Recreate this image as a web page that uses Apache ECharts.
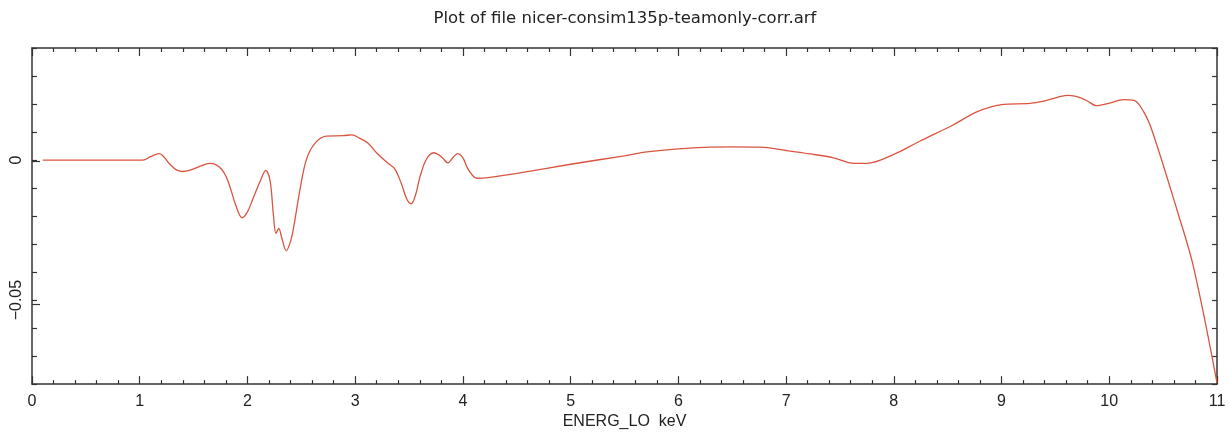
<!DOCTYPE html>
<html>
<head>
<meta charset="utf-8">
<script src="https://cdn.jsdelivr.net/npm/echarts@6/dist/echarts.min.js"></script>
<style>
html,body{margin:0;padding:0;background:#fff;}
#chart{width:1230px;height:435px;}
</style>
</head>
<body>
<div id="chart"></div>
<script>
const titleText = 'Plot of file nicer-consim135p-teamonly-corr.arf';
const xAxisName = 'ENERG_LO  keV';
const energy = [0.1, 0.5, 1.0, 1.03, 1.1, 1.18, 1.28, 1.34, 1.40, 1.47, 1.53, 1.60, 1.65, 1.71, 1.76, 1.80, 1.84, 1.89, 1.95, 2.00, 2.05, 2.12, 2.17, 2.21, 2.24, 2.265, 2.29, 2.32, 2.36, 2.40, 2.43, 2.49, 2.55, 2.63, 2.73, 2.89, 2.97, 3.04, 3.12, 3.20, 3.30, 3.37, 3.43, 3.48, 3.52, 3.56, 3.60, 3.66, 3.73, 3.80, 3.86, 3.91, 3.95, 4.00, 4.04, 4.09, 4.13, 4.25, 4.5, 5.0, 5.5, 5.71, 6.0, 6.29, 6.5, 6.76, 7.0, 7.22, 7.44, 7.63, 7.75, 8.0, 8.24, 8.55, 8.77, 9.0, 9.26, 9.39, 9.52, 9.62, 9.73, 9.80, 9.88, 10.01, 10.13, 10.23, 10.32, 10.40, 10.63, 10.78, 11.0];
const value = [0, 0, 0, 0, 0.0012, 0.0023, -0.0015, -0.0035, -0.0041, -0.0036, -0.0027, -0.0016, -0.0012, -0.0017, -0.0033, -0.0058, -0.0098, -0.0160, -0.0206, -0.0185, -0.0139, -0.0074, -0.0037, -0.0074, -0.0192, -0.0262, -0.0244, -0.0280, -0.0324, -0.0290, -0.0238, -0.0100, 0.0005, 0.0061, 0.0085, 0.0087, 0.0090, 0.0078, 0.0060, 0.0025, -0.0010, -0.0033, -0.0086, -0.0140, -0.0156, -0.0125, -0.0062, 0.0002, 0.0026, 0.0012, -0.0010, 0.0010, 0.0023, 0.0008, -0.0027, -0.0055, -0.0065, -0.0062, -0.0048, -0.0015, 0.0015, 0.0029, 0.0040, 0.0046, 0.0047, 0.0046, 0.0034, 0.0022, 0.0008, -0.0012, -0.0012, 0.0020, 0.0067, 0.0125, 0.0172, 0.0198, 0.0202, 0.0210, 0.0224, 0.0231, 0.0223, 0.0210, 0.0194, 0.0204, 0.0216, 0.0213, 0.0172, 0.0102, -0.0180, -0.0379, -0.0796];
const yLabelValues = [0, -0.05];

const FONT = 'Liberation Sans';
const AX = '#333';
const chart = echarts.init(document.getElementById('chart'));
const gridRect = {left: 32, right: 13, top: 48, bottom: 46};
const axLine = {show: true, onZero: false, lineStyle: {color: AX, width: 1.5}};
const xCommon = {
  type: 'value', min: 0, max: 11, interval: 1,
  axisLine: axLine,
  axisTick: {show: true, inside: true, length: 8, lineStyle: {color: AX, width: 1.2}},
  minorTick: {show: true, splitNumber: 5, length: 4, lineStyle: {color: AX, width: 1.2}},
  splitLine: {show: false}, minorSplitLine: {show: false}
};
chart.setOption({
  animation: false,
  backgroundColor: '#fff',
  title: {
    text: titleText, left: 620, top: 5, textAlign: 'center',
    textStyle: {fontFamily: 'DejaVu Sans', fontSize: 16.5, fontWeight: 'normal', color: '#222'}
  },
  grid: [Object.assign({}, gridRect), Object.assign({}, gridRect)],
  xAxis: [
    Object.assign({}, xCommon, {
      gridIndex: 0, position: 'bottom',
      axisLabel: {show: true, fontFamily: FONT, fontSize: 16, color: '#222', margin: 9},
      name: xAxisName, nameLocation: 'middle', nameGap: 28,
      nameTextStyle: {fontFamily: FONT, fontSize: 16, color: '#222'}
    }),
    Object.assign({}, xCommon, {gridIndex: 0, position: 'top', axisLabel: {show: false}}),
    {type: 'value', gridIndex: 1, min: 0, max: 11, show: false}
  ],
  yAxis: [
    {
      type: 'value', gridIndex: 0, position: 'left', min: -0.08, max: 0.04, interval: 0.01,
      axisLine: axLine,
      axisTick: {show: true, inside: true, length: 5, lineStyle: {color: AX, width: 1.2}},
      splitLine: {show: false},
      axisLabel: {
        show: true, rotate: 90, margin: 7, fontFamily: FONT, fontSize: 16, color: '#222',
        showMinLabel: true, showMaxLabel: true,
        formatter: function (v) {
          for (const t of yLabelValues) {
            if (Math.abs(v - t) < 1e-9) return t === 0 ? '0' : '\u2212' + Math.abs(t).toFixed(2);
          }
          return '';
        }
      }
    },
    {
      type: 'value', gridIndex: 0, position: 'right', min: -0.08, max: 0.04, interval: 0.01,
      axisLine: axLine,
      axisTick: {show: true, inside: true, length: 5, lineStyle: {color: AX, width: 1.2}},
      splitLine: {show: false}, axisLabel: {show: false}
    },
    {
      type: 'value', gridIndex: 1, position: 'left', min: -0.08, max: 0.04, interval: 0.01,
      axisLine: {show: false, onZero: false},
      axisTick: {show: true, inside: true, length: 8, customValues: yLabelValues, lineStyle: {color: AX, width: 1.2}},
      splitLine: {show: false}, axisLabel: {show: false}
    }
  ],
  series: [{
    type: 'line', xAxisIndex: 0, yAxisIndex: 0,
    data: energy.map((e, i) => [e, value[i]]),
    showSymbol: false, smooth: 0.35,
    lineStyle: {color: '#d9553f', width: 1.3},
    itemStyle: {color: '#d9553f'}
  }]
});
</script>
</body>
</html>
